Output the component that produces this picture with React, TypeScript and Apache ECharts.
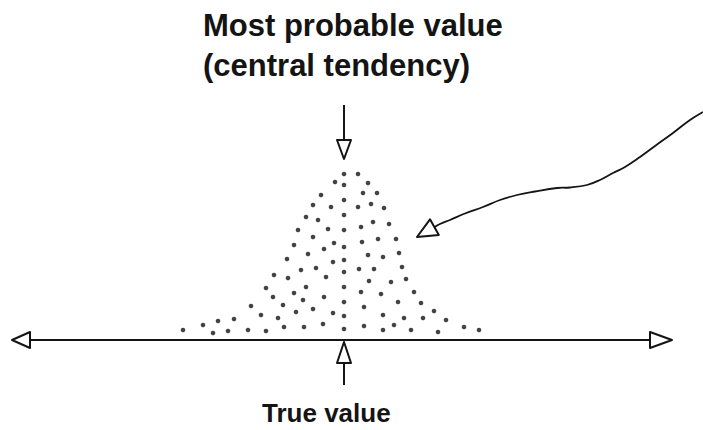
import React, { useEffect, useRef } from "react";
import * as echarts from "echarts";

// Each measurement: deviation from the true value (x) and stacking height above the baseline (y).
const dotX = [
  0, 1.4, -0.9, 0, 2.4, -2.3, 1.9, 3.3, 0, -3.1, -1.3, 1.4, 2.7, 4.0, -3.8, -2.6, 0, 2.9, 4.5,
  -4.6, -1.6, 0, 1.7, -3.1, -1.0, 1.8, 3.4, 5.2, -5.0, 0, -2.0, -3.6, 2.4, 3.9, 5.5, -5.7, 0,
  -1.1, -4.3, -2.8, 0, 1.5, 3.0, 5.8, -7.0, -5.6, -1.8, 2.5, 4.7, 6.2, -7.8, -3.8, 0, 1.7, 7.0,
  -7.1, -5.0, -2.0, 3.7, -4.1, 0, 5.4, 7.7, -9.3, -6.1, -3.1, 2.0, 9.0, -4.8, -8.3, -6.6, -1.1,
  0, 3.9, -12.6, -11.0, 6.0, 7.9, 10.2, -4.0, -2.1, 2.0, 5.0, -14.1, -16.1, -13.1, -11.6, -9.6,
  -7.8, -6.0, 0, 3.9, 6.7, 9.4, 12.0, 13.5,
];
const dotY = [
  16.6, 16.6, 15.8, 15.5, 15.7, 14.5, 14.7, 14.7, 14.0, 13.5, 13.3, 13.3, 13.6, 13.2, 12.3, 12.0,
  12.5, 11.8, 11.6, 11.0, 11.1, 11.0, 11.3, 10.3, 9.7, 9.8, 10.1, 10.1, 9.5, 9.3, 9.1, 8.6, 8.5,
  8.3, 8.7, 8.1, 8.0, 7.8, 7.0, 7.2, 6.8, 7.1, 7.1, 7.3, 6.5, 6.2, 6.3, 5.9, 5.8, 6.1, 5.2, 5.3,
  5.3, 4.8, 4.8, 4.3, 4.7, 4.3, 4.6, 4.0, 3.8, 3.8, 3.7, 3.4, 3.5, 3.1, 3.3, 2.9, 2.8, 2.5, 2.2,
  2.7, 2.4, 2.5, 1.9, 2.1, 2.2, 2.2, 2.0, 1.3, 1.6, 1.4, 1.5, 1.5, 1.0, 0.7, 0.9, 1.0, 0.9, 1.3,
  1.1, 1.0, 1.0, 0.8, 1.3, 1.0,
];

// Hand-drawn pointer that comes in from the upper right towards the scatter.
const curveX = [35.9, 34.6, 32.9, 31.1, 29.6, 28.1, 26.9, 25.6, 24.3, 22.6, 21.3, 19.1, 17.3, 15.6, 13.9, 12.1, 10.6, 9.6];
const curveY = [22.8, 22.0, 20.7, 19.4, 18.3, 17.3, 16.7, 16.0, 15.5, 15.25, 15.2, 14.85, 14.5, 14.0, 13.3, 12.65, 12.0, 11.6];
const curveTip = [7.3, 10.3];

// Baseline extent and the marker positions on it.
const baselineEnds = [-33.2, 32.8];
const trueValue = 0;
const mostProbable = 0;

const topLabel = "Most probable value\n(central tendency)";
const bottomLabel = "True value";

const INK = "#141414";

type Pt = number[];

function triangle(tip: Pt, from: Pt, len: number, half: number) {
  const dx = tip[0] - from[0];
  const dy = tip[1] - from[1];
  const d = Math.hypot(dx, dy) || 1;
  const ux = dx / d;
  const uy = dy / d;
  const bx = tip[0] - ux * len;
  const by = tip[1] - uy * len;
  return {
    base: [bx, by],
    points: [tip, [bx - uy * half, by + ux * half], [bx + uy * half, by - ux * half]],
  };
}

export default function App() {
  const ref = useRef<HTMLDivElement>(null);

  useEffect(() => {
    document.body.style.margin = "0";
    if (!ref.current) return;
    const chart = echarts.init(ref.current, undefined, { renderer: "svg" });

    const lineStyle = { stroke: INK, lineWidth: 2, fill: "none" };
    const triStyle = { stroke: INK, lineWidth: 2, fill: "#fff", lineJoin: "round" };

    const renderItem = (_params: any, api: any) => {
      const P = (x: number, y: number): Pt => api.coord([x, y]);
      const children: any[] = [];

      // baseline with open arrowheads at both ends
      const left = P(baselineEnds[0], 0);
      const right = P(baselineEnds[1], 0);
      const lt = triangle(left, right, 18, 8);
      const rt = triangle(right, left, 22, 8);
      children.push({ type: "line", shape: { x1: lt.base[0], y1: left[1], x2: rt.base[0], y2: right[1] }, style: lineStyle });
      children.push({ type: "polygon", shape: { points: lt.points }, style: triStyle });
      children.push({ type: "polygon", shape: { points: rt.points }, style: triStyle });

      // downward arrow at the most probable value
      const topStart = P(mostProbable, 23.5);
      const topTip = P(mostProbable, 18.1);
      const ta = triangle(topTip, topStart, 19, 7);
      children.push({ type: "line", shape: { x1: topStart[0], y1: topStart[1], x2: ta.base[0], y2: ta.base[1] }, style: lineStyle });
      children.push({ type: "polygon", shape: { points: ta.points }, style: triStyle });

      // upward arrow at the true value
      const botStart = P(trueValue, -4.5);
      const botTip = P(trueValue, -0.2);
      const ba = triangle(botTip, botStart, 21, 7);
      children.push({ type: "line", shape: { x1: botStart[0], y1: botStart[1], x2: ba.base[0], y2: ba.base[1] }, style: lineStyle });
      children.push({ type: "polygon", shape: { points: ba.points }, style: triStyle });

      // wavy pointer with its arrowhead
      const pts = curveX.map((x, i) => P(x, curveY[i]));
      const tip = P(curveTip[0], curveTip[1]);
      const ca = triangle(tip, pts[pts.length - 1], 20, 9);
      children.push({
        type: "polyline",
        shape: { points: [...pts, ca.base], smooth: 0.4 },
        style: { stroke: INK, lineWidth: 1.8, fill: "none" },
      });
      children.push({ type: "polygon", shape: { points: ca.points }, style: triStyle });

      return { type: "group", children };
    };

    chart.setOption({
      animation: false,
      backgroundColor: "#fff",
      grid: { left: 0, right: 0, top: 0, bottom: 0 },
      xAxis: { type: "value", min: -34.4, max: 35.9, show: false },
      yAxis: { type: "value", min: -9, max: 34, show: false },
      graphic: [
        {
          type: "text",
          x: 203,
          y: 5,
          style: {
            text: topLabel,
            font: 'bold 31px "Liberation Sans", Arial, sans-serif',
            fill: INK,
            align: "left",
            lineHeight: 40,
          },
        },
        {
          type: "text",
          x: 262,
          y: 400,
          style: {
            text: bottomLabel,
            font: 'bold 26px "Liberation Sans", Arial, sans-serif',
            fill: INK,
            align: "left",
          },
        },
      ],
      series: [
        {
          type: "scatter",
          data: dotX.map((x, i) => [x, dotY[i]]),
          symbol: "circle",
          symbolSize: 4.6,
          itemStyle: { color: INK },
          z: 3,
        },
        {
          type: "custom",
          data: [[0, 0]],
          renderItem,
          silent: true,
          z: 2,
        },
      ],
    });

    return () => chart.dispose();
  }, []);

  return <div ref={ref} style={{ width: 703, height: 430 }} />;
}
